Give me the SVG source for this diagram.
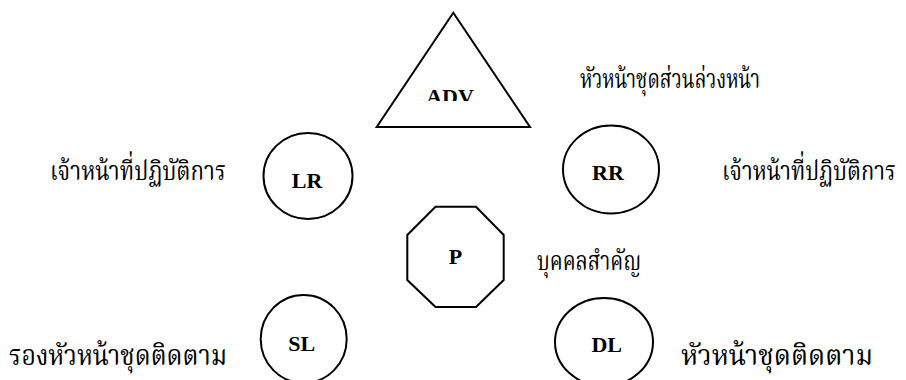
<svg xmlns="http://www.w3.org/2000/svg" width="906" height="380" viewBox="0 0 906 380">
<style>
.shape{fill:#fff;stroke:#000;stroke-width:2}
.lbl{font-family:"Liberation Serif","Times New Roman",serif;font-weight:bold;font-size:22px;fill:#000;text-anchor:middle}
.th{font-family:"Norasi","Kinnari","Noto Serif Thai","Liberation Serif","DejaVu Serif",serif;font-size:21px;fill:#000}
.thb{font-size:23px}
</style>
<defs>
<clipPath id="advclip"><rect x="370" y="0" width="170" height="101"/></clipPath>
</defs>
<rect width="906" height="380" fill="#fff"/>
<g id="connectors"></g>
<g id="ADV">
<polygon class="shape" points="453.3,12.7 376.7,127 530,127"/>
<text class="lbl" x="450" y="104" clip-path="url(#advclip)">ADV</text>
</g>
<g id="LR">
<ellipse class="shape" cx="308" cy="176" rx="44.5" ry="43"/>
<text class="lbl" x="307" y="188">LR</text>
</g>
<g id="RR">
<ellipse class="shape" cx="611" cy="169.5" rx="48" ry="44"/>
<text class="lbl" x="608" y="180">RR</text>
</g>
<g id="P">
<polygon class="shape" points="435.5,206.7 476,206.7 503.7,235 503.7,280 476,307 435.5,307 407.3,280 407.3,235"/>
<text class="lbl" x="455.5" y="264">P</text>
</g>
<g id="SL">
<ellipse class="shape" cx="303.7" cy="339" rx="43" ry="44"/>
<text class="lbl" x="301.7" y="351">SL</text>
</g>
<g id="DL">
<ellipse class="shape" cx="604" cy="342" rx="49" ry="44"/>
<text class="lbl" x="606.7" y="352">DL</text>
</g>
<g id="labels">
<text class="th" transform="translate(580,88) scale(1,1.3)" textLength="180" lengthAdjust="spacingAndGlyphs">หัวหน้าชุดส่วนล่วงหน้า</text>
<text class="th" transform="translate(50,180) scale(1,1.3)" textLength="176" lengthAdjust="spacingAndGlyphs">เจ้าหน้าที่ปฏิบัติการ</text>
<text class="th" transform="translate(722,180) scale(1,1.3)" textLength="174" lengthAdjust="spacingAndGlyphs">เจ้าหน้าที่ปฏิบัติการ</text>
<text class="th" transform="translate(537,270) scale(1,1.3)" textLength="104" lengthAdjust="spacingAndGlyphs">บุคคลสำคัญ</text>
<text class="th thb" transform="translate(9,365) scale(1,1.2)" textLength="218" lengthAdjust="spacingAndGlyphs">รองหัวหน้าชุดติดตาม</text>
<text class="th thb" transform="translate(681,365) scale(1,1.2)" textLength="192" lengthAdjust="spacingAndGlyphs">หัวหน้าชุดติดตาม</text>
</g>
</svg>
